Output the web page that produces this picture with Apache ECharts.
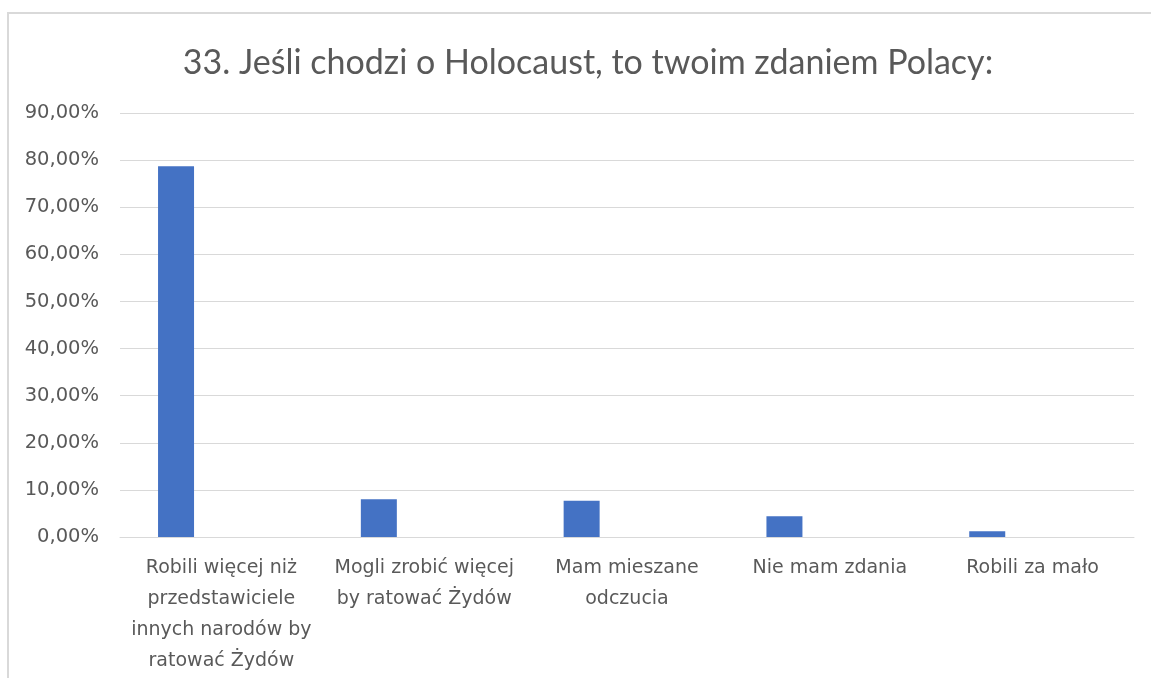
<!DOCTYPE html>
<html>
<head>
<meta charset="utf-8">
<script src="https://cdn.jsdelivr.net/npm/echarts@6/dist/echarts.min.js"></script>
<style>
html,body{margin:0;padding:0;background:#fff;}
#chart{width:1151px;height:678px;}
</style>
</head>
<body>
<div id="chart"></div>
<script>
const titleText = "33. Jeśli chodzi o Holocaust, to twoim zdaniem Polacy:";
const categories = [
  "Robili więcej niż\nprzedstawiciele\ninnych narodów by\nratować Żydów",
  "Mogli zrobić więcej\nby ratować Żydów",
  "Mam mieszane\nodczucia",
  "Nie mam zdania",
  "Robili za mało"
];
const values = [78.7, 8.0, 7.7, 4.4, 1.2];
const emptySeries = [null, null, null, null, null];
const yTicks = { min: 0, max: 90, interval: 10 };

const chart = echarts.init(document.getElementById('chart'), null, {renderer: 'canvas'});
chart.setOption({
  animation: false,
  backgroundColor: '#ffffff',
  graphic: [{
    type: 'rect',
    shape: { x: 8, y: 13, width: 1200, height: 700 },
    style: { fill: 'none', stroke: '#d9d9d9', lineWidth: 2 },
    silent: true
  }],
  title: {
    text: titleText,
    left: 583,
    textAlign: 'center',
    top: 41,
    textStyle: {
      fontFamily: 'Lato, sans-serif',
      fontSize: 34,
      fontWeight: 'normal',
      color: '#595959'
    }
  },
  grid: { left: 120, right: 17, top: 113, bottom: 141, containLabel: false },
  xAxis: {
    type: 'category',
    data: categories,
    axisLine: { show: true, lineStyle: { color: '#d9d9d9', width: 1 } },
    axisTick: { show: false },
    axisLabel: {
      interval: 0,
      margin: 16,
      fontFamily: '"DejaVu Sans", sans-serif',
      fontSize: 19,
      lineHeight: 31,
      color: '#595959'
    }
  },
  yAxis: {
    type: 'value',
    min: yTicks.min,
    max: yTicks.max,
    interval: yTicks.interval,
    axisLine: { show: false },
    axisTick: { show: false },
    splitLine: { lineStyle: { color: '#d9d9d9', width: 1 } },
    axisLabel: {
      margin: 21,
      fontFamily: '"DejaVu Sans", sans-serif',
      fontSize: 19.5,
      color: '#595959',
      formatter: v => v.toFixed(2).replace('.', ',') + '%'
    }
  },
  series: [
    { type: 'bar', data: values, barWidth: 36, barGap: '152%', itemStyle: { color: '#4472C4' } },
    { type: 'bar', data: emptySeries, barWidth: 36, itemStyle: { color: '#ED7D31' } }
  ]
});
</script>
</body>
</html>
